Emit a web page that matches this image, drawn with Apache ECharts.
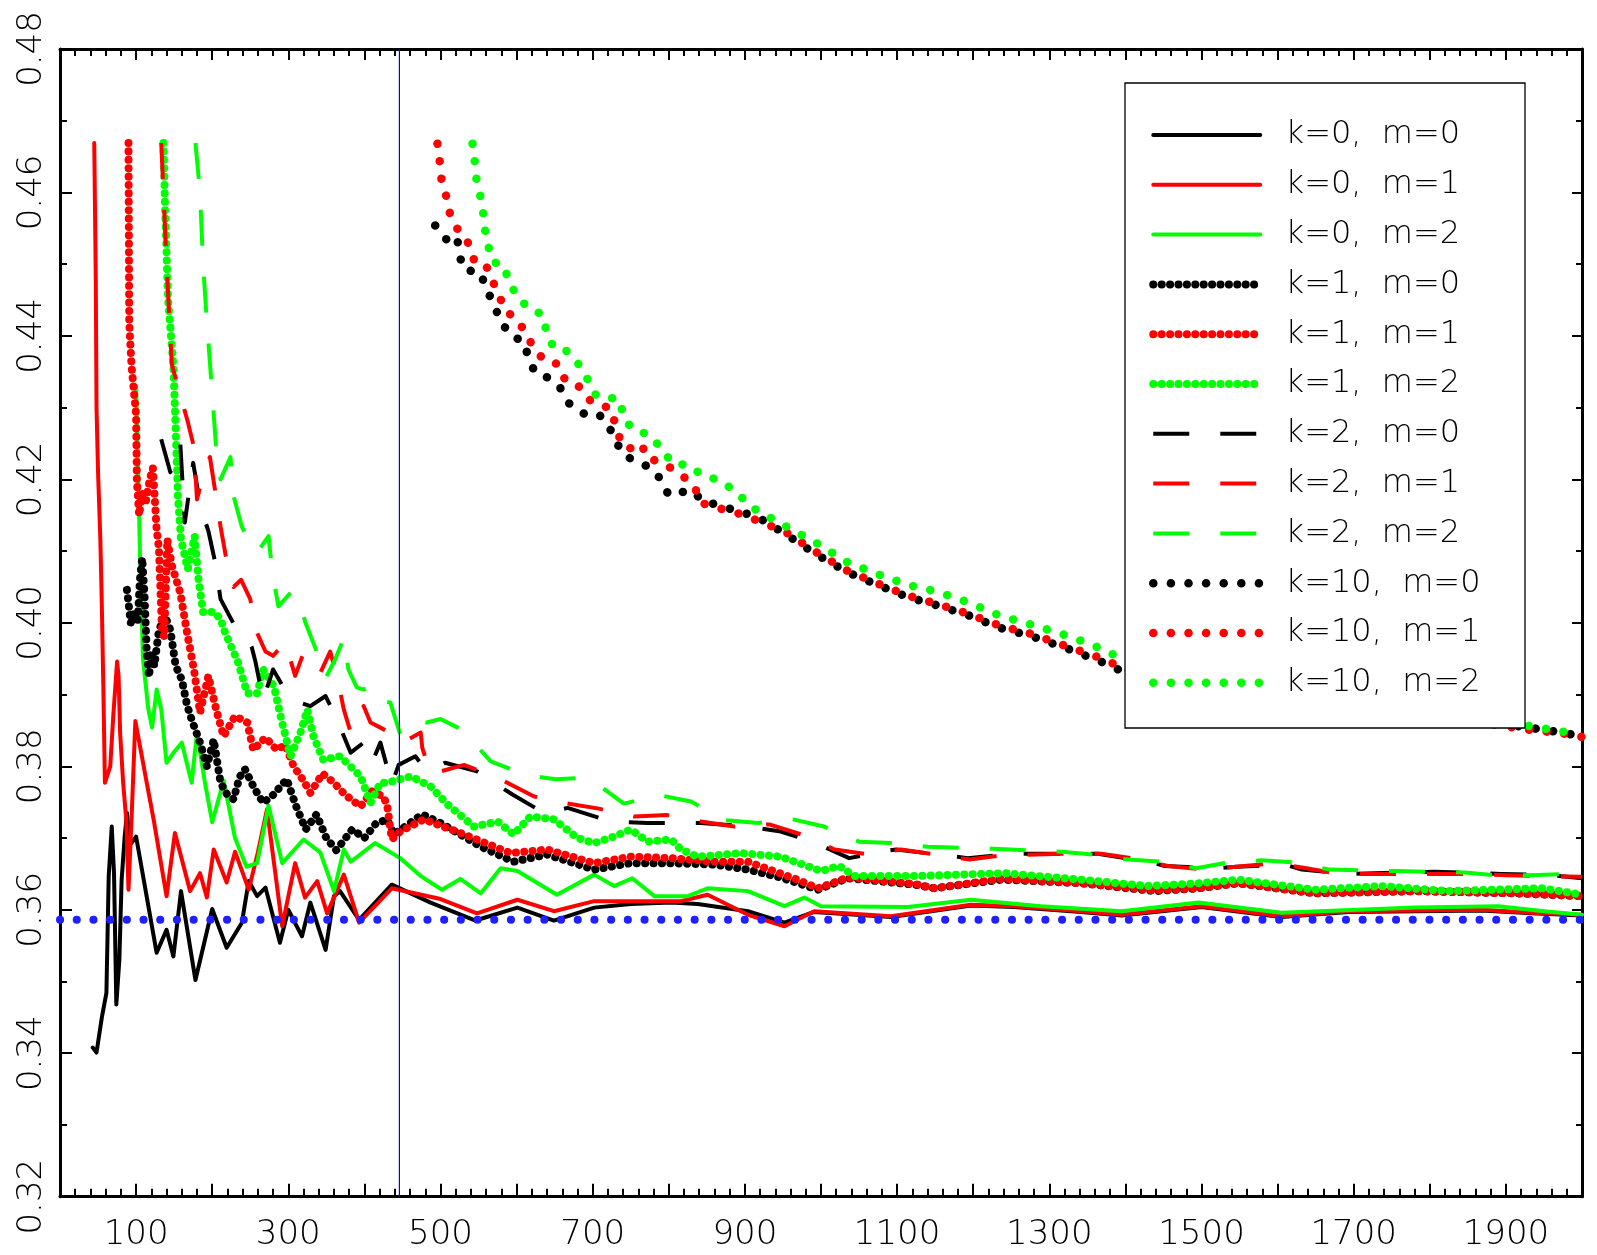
<!DOCTYPE html>
<html>
<head>
<meta charset="utf-8">
<script src="https://cdn.jsdelivr.net/npm/echarts@6/dist/echarts.min.js"></script>
<style>html,body{margin:0;padding:0;background:#fff}#chart{width:1597px;height:1255px}</style>
</head>
<body>
<div id="chart"></div>
<script>
// ---- data: [x, value] pairs ----
const k0m0 = [[43,0.3408],[48,0.3401],[55,0.3450],[61,0.3484],[64,0.3647],[68,0.3716],[71,0.3650],[74,0.3468],[78,0.3530],[81,0.3642],[85,0.3702],[88,0.3735],[92,0.3690],[100,0.3702],[127,0.3540],[140,0.3572],[149,0.3535],[159,0.3626],[178,0.3502],[200,0.3601],[219,0.3547],[239,0.3582],[248,0.3640],[259,0.3619],[270,0.3631],[289,0.3554],[300,0.3600],[318,0.3563],[329,0.3610],[349,0.3544],[360,0.3619],[368,0.3626],[393,0.3586],[436,0.3635],[487,0.3610],[546,0.3585],[601,0.3603],[649,0.3585],[702,0.3603],[750,0.3608],[803,0.3610],[838,0.3608],[904,0.3598],[952,0.3582],[991,0.3597],[1092,0.3590],[1197,0.3606],[1254,0.3604],[1342,0.3597],[1395,0.3592],[1500,0.3604],[1605,0.3590],[1693,0.3597],[1868,0.3599],[1934,0.3595],[2000,0.3592]];
const k0m1 = [[45,0.4669],[46,0.4577],[47,0.4480],[48,0.4300],[50,0.4210],[53,0.4117],[55,0.4023],[57,0.3907],[59,0.3777],[66,0.3800],[70,0.3870],[75,0.3946],[77,0.3926],[79,0.3847],[83,0.3777],[87,0.3726],[90,0.3628],[94,0.3726],[99,0.3863],[114,0.3777],[123,0.3726],[140,0.3619],[151,0.3707],[171,0.3626],[184,0.3651],[193,0.3617],[202,0.3684],[219,0.3638],[230,0.3681],[248,0.3628],[260,0.3680],[272,0.3740],[292,0.3577],[309,0.3665],[322,0.3617],[338,0.3640],[351,0.3595],[373,0.3649],[393,0.3582],[436,0.3630],[500,0.3615],[548,0.3595],[601,0.3614],[649,0.3598],[702,0.3612],[816,0.3612],[851,0.3621],[904,0.3593],[952,0.3577],[991,0.3598],[1092,0.3591],[1197,0.3607],[1254,0.3605],[1342,0.3598],[1395,0.3593],[1500,0.3605],[1605,0.3591],[1693,0.3598],[1868,0.3600],[1934,0.3596],[2000,0.3593]];
const k0m2 = [[100,0.4330],[103,0.4200],[105,0.4100],[109,0.3950],[116,0.3880],[121,0.3854],[127,0.3907],[133,0.3880],[140,0.3805],[150,0.3820],[160,0.3833],[173,0.3777],[180,0.3847],[190,0.3780],[200,0.3722],[215,0.3780],[230,0.3700],[245,0.3660],[259,0.3665],[274,0.3745],[292,0.3665],[320,0.3698],[342,0.3680],[360,0.3626],[373,0.3684],[382,0.3667],[414,0.3693],[447,0.3672],[474,0.3647],[502,0.3628],[526,0.3643],[553,0.3623],[579,0.3658],[601,0.3654],[653,0.3621],[702,0.3649],[728,0.3633],[752,0.3644],[781,0.3619],[825,0.3619],[851,0.3630],[904,0.3626],[952,0.3605],[978,0.3617],[1000,0.3605],[1114,0.3604],[1197,0.3614],[1289,0.3605],[1395,0.3598],[1496,0.3610],[1605,0.3596],[1781,0.3603],[1890,0.3605],[1950,0.3598],[2000,0.3593]];
const k1m0 = [[88,0.4046],[93,0.4000],[98,0.4015],[102,0.4000],[105,0.4060],[108,0.4090],[111,0.4040],[114,0.3960],[117,0.3925],[120,0.3960],[124,0.3940],[130,0.3990],[138,0.4010],[145,0.3990],[152,0.3940],[160,0.3921],[167,0.3885],[173,0.3865],[184,0.3833],[193,0.3800],[202,0.3837],[211,0.3777],[220,0.3760],[228,0.3754],[236,0.3785],[243,0.3796],[255,0.3770],[267,0.3749],[280,0.3760],[298,0.3782],[310,0.3745],[323,0.3712],[337,0.3733],[350,0.3700],[363,0.3683],[384,0.3712],[400,0.3700],[415,0.3720],[430,0.3726],[439,0.3705],[476,0.3733],[500,0.3721],[553,0.3688],[596,0.3667],[640,0.3677],[702,0.3656],[750,0.3665],[803,0.3665],[860,0.3663],[904,0.3656],[947,0.3645],[996,0.3628],[1035,0.3644],[1123,0.3635],[1149,0.3630],[1237,0.3642],[1342,0.3637],[1439,0.3626],[1496,0.3630],[1548,0.3637],[1649,0.3623],[1781,0.3626],[1912,0.3623],[2000,0.3619]];
const k1m1 = [[90,0.4669],[91,0.4418],[94,0.4358],[100,0.4290],[101,0.4200],[104,0.4150],[108,0.4180],[113,0.4170],[118,0.4200],[122,0.4216],[127,0.4130],[130,0.4104],[134,0.3990],[137,0.3980],[141,0.4116],[147,0.4080],[158,0.4042],[167,0.3986],[176,0.3935],[184,0.3875],[195,0.3926],[205,0.3880],[215,0.3842],[230,0.3870],[246,0.3861],[254,0.3823],[270,0.3840],[285,0.3823],[296,0.3830],[307,0.3800],[320,0.3780],[329,0.3763],[345,0.3790],[360,0.3777],[375,0.3760],[395,0.3744],[410,0.3765],[425,0.3758],[430,0.3745],[436,0.3698],[447,0.3709],[478,0.3726],[531,0.3705],[592,0.3679],[640,0.3684],[702,0.3665],[750,0.3674],[803,0.3672],[860,0.3667],[904,0.3667],[969,0.3642],[996,0.3630],[1035,0.3645],[1123,0.3636],[1149,0.3630],[1237,0.3643],[1342,0.3637],[1439,0.3627],[1496,0.3630],[1548,0.3637],[1649,0.3623],[1781,0.3626],[1912,0.3623],[2000,0.3619]];
const k1m2 = [[136,0.4669],[138,0.4582],[142,0.4451],[149,0.4358],[151,0.4300],[155,0.4176],[159,0.4116],[164,0.4093],[168,0.4075],[177,0.4121],[182,0.4060],[188,0.4015],[203,0.4015],[211,0.4005],[217,0.3986],[225,0.3967],[234,0.3945],[246,0.3902],[259,0.3902],[267,0.3935],[281,0.3912],[292,0.3860],[303,0.3814],[316,0.3847],[325,0.3879],[333,0.3842],[346,0.3809],[368,0.3814],[395,0.3786],[408,0.3749],[421,0.3777],[430,0.3777],[447,0.3782],[461,0.3786],[487,0.3772],[509,0.3747],[544,0.3716],[575,0.3723],[596,0.3705],[618,0.3730],[649,0.3726],[680,0.3700],[702,0.3693],[728,0.3702],[750,0.3712],[772,0.3695],[803,0.3698],[816,0.3684],[838,0.3674],[895,0.3679],[947,0.3674],[1000,0.3654],[1024,0.3661],[1044,0.3647],[1123,0.3647],[1241,0.3651],[1342,0.3642],[1430,0.3633],[1496,0.3637],[1548,0.3642],[1649,0.3628],[1737,0.3633],[1825,0.3626],[1947,0.3630],[2000,0.3621]];
const k2m0 = [[133,0.4256],[145,0.4210],[158,0.4251],[164,0.4140],[175,0.4223],[185,0.4160],[195,0.4128],[204,0.4084],[211,0.4033],[230,0.3995],[240,0.3989],[252,0.3966],[257,0.3945],[267,0.3893],[280,0.3935],[303,0.3893],[329,0.3884],[349,0.3898],[364,0.3865],[382,0.3819],[399,0.3833],[410,0.3805],[421,0.3833],[436,0.3775],[445,0.3802],[467,0.3814],[482,0.3793],[506,0.3805],[548,0.3793],[594,0.3761],[636,0.3735],[667,0.3742],[724,0.3723],[772,0.3721],[842,0.3721],[904,0.3716],[947,0.3709],[989,0.3695],[1037,0.3672],[1079,0.3681],[1099,0.3684],[1193,0.3672],[1254,0.3678],[1364,0.3678],[1430,0.3667],[1452,0.3661],[1522,0.3658],[1546,0.3660],[1610,0.3663],[1632,0.3656],[1697,0.3650],[1807,0.3653],[1894,0.3650],[1961,0.3648],[2000,0.3644]];
const k2m1 = [[133,0.4669],[136,0.4600],[140,0.4500],[147,0.4360],[160,0.4310],[168,0.4280],[176,0.4245],[180,0.4172],[190,0.4215],[197,0.4231],[204,0.4183],[211,0.4134],[218,0.4092],[228,0.4050],[238,0.4060],[250,0.4033],[259,0.3986],[270,0.3960],[280,0.3954],[296,0.3973],[309,0.3926],[320,0.3958],[342,0.3930],[355,0.3960],[364,0.3926],[373,0.3879],[382,0.3847],[399,0.3884],[408,0.3861],[430,0.3849],[438,0.3837],[450,0.3833],[474,0.3847],[476,0.3826],[487,0.3789],[531,0.3802],[575,0.3784],[623,0.3758],[662,0.3749],[708,0.3741],[754,0.3730],[798,0.3732],[842,0.3723],[886,0.3716],[932,0.3719],[974,0.3705],[1018,0.3684],[1064,0.3677],[1105,0.3684],[1151,0.3677],[1195,0.3670],[1239,0.3676],[1316,0.3678],[1368,0.3678],[1414,0.3671],[1456,0.3661],[1505,0.3656],[1546,0.3660],[1594,0.3665],[1632,0.3659],[1680,0.3650],[1856,0.3650],[1901,0.3648],[1945,0.3647],[2000,0.3646]];
const k2m2 = [[178,0.4669],[184,0.4600],[188,0.4500],[193,0.4420],[200,0.4320],[205,0.4246],[211,0.4200],[224,0.4231],[228,0.4177],[239,0.4134],[250,0.4110],[259,0.4098],[274,0.4121],[279,0.4070],[287,0.4023],[303,0.4042],[312,0.4040],[322,0.4002],[338,0.3958],[349,0.3923],[362,0.3950],[373,0.3979],[379,0.3935],[390,0.3910],[399,0.3907],[410,0.3912],[421,0.3891],[434,0.3889],[447,0.3845],[463,0.3863],[482,0.3861],[500,0.3866],[528,0.3851],[566,0.3807],[612,0.3788],[651,0.3782],[690,0.3784],[700,0.3780],[741,0.3748],[787,0.3760],[829,0.3751],[875,0.3725],[917,0.3721],[963,0.3726],[1004,0.3716],[1050,0.3695],[1094,0.3693],[1140,0.3688],[1228,0.3685],[1316,0.3681],[1357,0.3677],[1403,0.3670],[1447,0.3667],[1493,0.3658],[1535,0.3666],[1579,0.3669],[1622,0.3666],[1668,0.3656],[1756,0.3654],[1846,0.3652],[1888,0.3648],[1934,0.3648],[1978,0.3650],[2000,0.3647]];
const k10m0 = [[493,0.4554],[509,0.4533],[522,0.4538],[524,0.4515],[531,0.4492],[552,0.4489],[561,0.4464],[571,0.4442],[579,0.4420],[594,0.4399],[609,0.4393],[615,0.4372],[624,0.4349],[639,0.4343],[656,0.4330],[669,0.4306],[688,0.4292],[707,0.4292],[721,0.4275],[730,0.4253],[743,0.4232],[760,0.4225],[777,0.4215],[788,0.4202],[800,0.4178],[829,0.4185],[847,0.4168],[869,0.4164],[892,0.4154],[913,0.4150],[953,0.4124],[993,0.4096],[1034,0.4071],[1074,0.4053],[1114,0.4036],[1154,0.4024],[1195,0.4010],[1235,0.3993],[1275,0.3982],[1329,0.3962],[1370,0.3945],[1401,0.3930],[1930,0.3854],[1961,0.3849],[2000,0.3842]];
const k10m1 = [[496,0.4668],[499,0.4643],[501,0.4620],[507,0.4597],[512,0.4572],[521,0.4551],[535,0.4533],[544,0.4506],[558,0.4503],[567,0.4480],[577,0.4456],[586,0.4434],[599,0.4425],[611,0.4406],[622,0.4384],[637,0.4365],[654,0.4361],[664,0.4338],[680,0.4332],[694,0.4312],[708,0.4303],[723,0.4300],[735,0.4259],[746,0.4242],[764,0.4250],[771,0.4230],[793,0.4223],[820,0.4203],[834,0.4190],[841,0.4168],[860,0.4161],[882,0.4156],[906,0.4147],[953,0.4127],[993,0.4099],[1034,0.4073],[1074,0.4055],[1114,0.4038],[1154,0.4026],[1195,0.4012],[1235,0.3996],[1275,0.3985],[1329,0.3965],[1370,0.3950],[1401,0.3935],[1930,0.3851],[1974,0.3846],[2000,0.3841]];
const k10m2 = [[542,0.4668],[545,0.4643],[547,0.4620],[552,0.4597],[556,0.4572],[558,0.4551],[562,0.4528],[569,0.4503],[583,0.4499],[590,0.4475],[601,0.4455],[618,0.4436],[633,0.4431],[639,0.4408],[648,0.4385],[662,0.4383],[680,0.4363],[693,0.4340],[705,0.4316],[735,0.4312],[741,0.4286],[752,0.4270],[775,0.4262],[790,0.4243],[805,0.4222],[827,0.4220],[843,0.4206],[866,0.4199],[888,0.4183],[909,0.4161],[953,0.4135],[993,0.4112],[1034,0.4085],[1074,0.4068],[1114,0.4053],[1154,0.4043],[1195,0.4028],[1235,0.4010],[1275,0.3998],[1315,0.3985],[1355,0.3970],[1392,0.3952],[1943,0.3854],[1965,0.3850],[1990,0.3846]];

const refLevel = 0.3586;   // blue dotted horizontal reference
const refX = 446;          // blue vertical marker
const xLabelValues = [100, 300, 500, 700, 900, 1100, 1300, 1500, 1700, 1900];
const yLabelValues = ['0.32', '0.34', '0.36', '0.38', '0.40', '0.42', '0.44', '0.46', '0.48'];
const seriesNames = ['k=0, m=0','k=0, m=1','k=0, m=2','k=1, m=0','k=1, m=1','k=1, m=2','k=2, m=0','k=2, m=1','k=2, m=2','k=10, m=0','k=10, m=1','k=10, m=2'];

// ---- styling ----
const FONT = 'DejaVu Sans';
const FW = 200;
const BLACK = '#000000', RED = '#ff0000', GREEN = '#00ff00', BLUE = '#2020ff';
const SOLID  = {width: 4,   type: 'solid',     cap: 'round'};
const DENSE  = {width: 8,   type: [0.1, 8.3],  cap: 'round'};
const DASH   = {width: 4,   type: [36, 31],    cap: 'butt'};
const SPARSE = {width: 8.5, type: [0.1, 17.5], cap: 'round'};

const defs = [
  [k0m0, BLACK, SOLID], [k0m1, RED, SOLID], [k0m2, GREEN, SOLID],
  [k1m0, BLACK, DENSE], [k1m1, RED, DENSE], [k1m2, GREEN, DENSE],
  [k2m0, BLACK, DASH],  [k2m1, RED, DASH],  [k2m2, GREEN, DASH],
  [k10m0, BLACK, SPARSE], [k10m1, RED, SPARSE], [k10m2, GREEN, SPARSE]
];

const series = defs.map(([data, color, st], i) => ({
  type: 'line', name: seriesNames[i], data: data, symbol: 'none', silent: true,
  xAxisIndex: 0, yAxisIndex: 0, z: 2,
  lineStyle: {color: color, width: st.width, type: st.type, cap: st.cap, join: 'round'}
}));
series.push({
  type: 'line', name: 'ref level', data: [[0, refLevel], [2000, refLevel]], symbol: 'none', silent: true, z: 2,
  lineStyle: {color: BLUE, width: 8, type: [0.1, 16.6], cap: 'round'}
});
series.push({
  type: 'line', name: 'ref x', data: [[refX, 0.32], [refX, 0.48]], symbol: 'none', silent: true, z: 2,
  lineStyle: {color: '#0000ff', width: 1.2}
});

const legendData = defs.map(([data, color, st], i) => ({
  name: seriesNames[i],
  lineStyle: {color: color, width: st.width, type: st.type, cap: st.cap},
  itemStyle: {color: 'rgba(0,0,0,0)', borderColor: 'rgba(0,0,0,0)', borderWidth: 0, opacity: 0}
}));

function axisCommon(tickLen) {
  return {
    axisLine: {show: true, onZero: false, lineStyle: {color: '#000', width: 3}},
    axisTick: {show: true, inside: true, length: tickLen, lineStyle: {color: '#000', width: 2}},
    splitLine: {show: false}, minorSplitLine: {show: false}
  };
}

const chart = echarts.init(document.getElementById('chart'), null, {renderer: 'canvas'});
chart.setOption({
  animation: false,
  backgroundColor: '#ffffff',
  textStyle: {fontFamily: FONT, fontWeight: FW},
  grid: {left: 60, top: 49, width: 1522, height: 1147.7, containLabel: false, outerBoundsMode: 'none'},
  xAxis: [
    Object.assign(axisCommon(13), {
      type: 'value', min: 0, max: 2000, interval: 100, position: 'bottom',
      minorTick: {show: true, splitNumber: 5, length: 8, lineStyle: {color: '#000', width: 2}},
      axisLabel: {show: true, margin: 21, fontSize: 34, fontFamily: FONT, fontWeight: FW, color: '#000',
        formatter: v => xLabelValues.indexOf(Math.round(v)) >= 0 ? String(Math.round(v)) : ''}
    }),
    Object.assign(axisCommon(11), {
      type: 'value', min: 0, max: 2000, interval: 100, position: 'top',
      minorTick: {show: true, splitNumber: 5, length: 7, lineStyle: {color: '#000', width: 2}},
      axisLabel: {show: false}
    })
  ],
  yAxis: [
    Object.assign(axisCommon(12), {
      type: 'value', min: 0.32, max: 0.48, interval: 0.02, position: 'left',
      minorTick: {show: true, splitNumber: 2, length: 7, lineStyle: {color: '#000', width: 2}},
      axisLabel: {show: true, rotate: 90, margin: 11, fontSize: 34, fontFamily: FONT, fontWeight: FW, color: '#000',
        formatter: v => { const s = v.toFixed(2); return yLabelValues.indexOf(s) >= 0 ? s : ''; }}
    }),
    Object.assign(axisCommon(10), {
      type: 'value', min: 0.32, max: 0.48, interval: 0.02, position: 'right',
      minorTick: {show: true, splitNumber: 2, length: 6, lineStyle: {color: '#000', width: 2}},
      axisLabel: {show: false}
    })
  ],
  graphic: [{
    type: 'rect', silent: true, z: 3,
    shape: {x: 1125, y: 83, width: 400, height: 645},
    style: {fill: '#ffffff', stroke: '#000000', lineWidth: 1.3}
  }],
  legend: {
    data: legendData, orient: 'vertical', left: 1149, top: 119, padding: 0,
    itemWidth: 107, itemHeight: 14, itemGap: 17.8, selectedMode: false, z: 5,
    backgroundColor: 'transparent', borderWidth: 0,
    textStyle: {fontFamily: FONT, fontWeight: FW, fontSize: 32, lineHeight: 32, color: '#000'},
    formatter: n => '  ' + n.replace(', ', ',  ')
  },
  series: series
});
</script>
</body>
</html>
